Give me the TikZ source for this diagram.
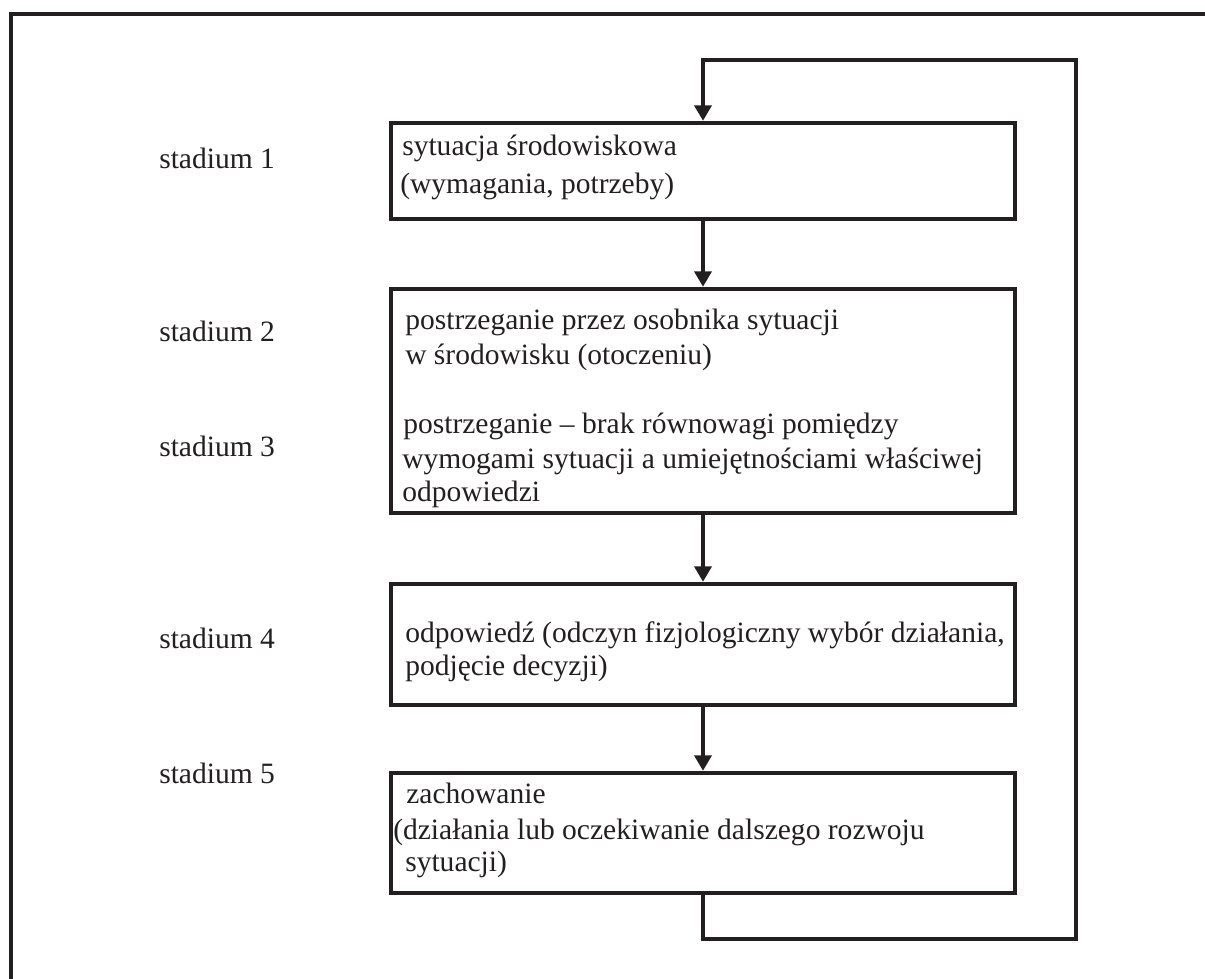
\documentclass[tikz,border=0pt]{standalone}
\usepackage{fontspec}
\setmainfont{Liberation Serif}
\usetikzlibrary{positioning, fit, arrows.meta}

\definecolor{ink}{HTML}{231F20}

\tikzset{
  box/.style={draw=ink, line width=3.1pt, inner sep=0pt},
  txt/.style={anchor=base west, inner sep=0pt, text=ink},
  link/.style={draw=ink, line width=3.1pt, -{Triangle[length=11pt, width=12pt]}},
}

\begin{document}
\begin{tikzpicture}[x=0.025cm, y=-0.025cm, font=\fontsize{21}{25}\selectfont]
\useasboundingbox (0,0) rectangle (1205,979);

% Frame
\draw[ink, line width=3.3pt] (11,979) -- (11,14) -- (1205,14);

% Stages
\node[txt] (st1) at (159,168) {stadium 1};
\node[txt] (st2) at (159,341) {stadium 2};
\node[txt] (st3) at (159,456) {stadium 3};
\node[txt] (st4) at (159,648) {stadium 4};
\node[txt] (st5) at (159,783) {stadium 5};

% Boxes
\node[box, fit={(391,123) (1015,219)}] (sytuacja) {};
\node[box, fit={(391,289) (1015,513)}] (postrz) {};
\node[box, fit={(391,584) (1015,705)}] (odpow) {};
\node[box, fit={(391,773) (1015,893)}] (zachow) {};

% Box texts
\node[txt] (t1a) at (402,155) {sytuacja środowiskowa};
\node[txt] (t1b) at (400,193) {(wymagania, potrzeby)};
\node[txt] (t2a) at (405,329) {postrzeganie przez osobnika sytuacji};
\node[txt] (t2b) at (405,364) {w środowisku (otoczeniu)};
\node[txt] (t2c) at (403,433) {postrzeganie – brak równowagi pomiędzy};
\node[txt] (t2d) at (402,468) {wymogami sytuacji a umiejętnościami właściwej};
\node[txt] (t2e) at (402,501) {odpowiedzi};
\node[txt] (t3a) at (405,642) {odpowiedź (odczyn fizjologiczny wybór działania,};
\node[txt] (t3b) at (405,675) {podjęcie decyzji)};
\node[txt] (t4a) at (406,803) {zachowanie};
\node[txt] (t4b) at (393,839) {(działania lub oczekiwanie dalszego rozwoju};
\node[txt] (t4c) at (405,871) {sytuacji)};

% Arrows
\draw[link] (sytuacja) -- (postrz);
\draw[link] (postrz) -- (odpow);
\draw[link] (odpow) -- (zachow);

% Feedback loop
\coordinate (loopbl) at (703,939);
\coordinate (loopbr) at (1076,939);
\coordinate (looptr) at (1076,60);
\coordinate (looptl) at (703,60);
\draw[link] (zachow.south) -- (loopbl) -- (loopbr) -- (looptr) -- (looptl) -- (sytuacja.north);

\end{tikzpicture}
\end{document}
